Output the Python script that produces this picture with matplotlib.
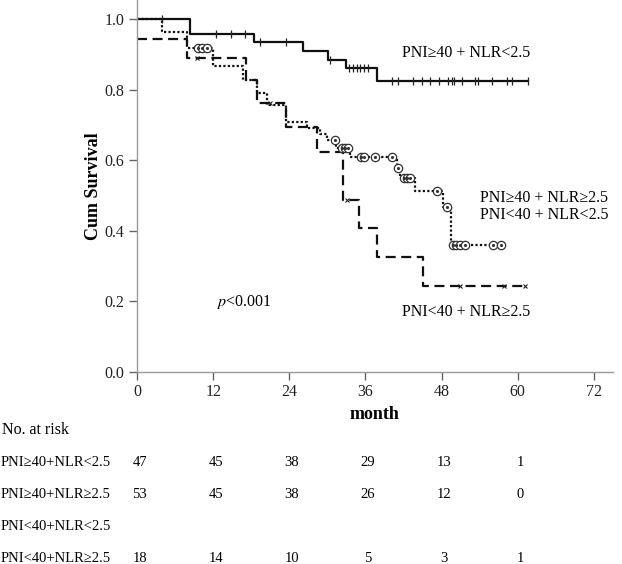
import matplotlib
matplotlib.use("Agg")
import matplotlib.pyplot as plt
import matplotlib.transforms as mtransforms

plt.rcParams['font.family'] = ['Liberation Serif', 'DejaVu Serif']
plt.rcParams['mathtext.fontset'] = 'stix'

# --- Kaplan-Meier steps ---
# PNI>=40 + NLR<2.5 (solid)
t_hi_low = [0, 8.3, 18.5, 26.2, 30.1, 33.0, 37.8, 61.6]
s_hi_low = [1.0, 0.957, 0.935, 0.909, 0.884, 0.861, 0.824, 0.824]
c_hi_low_t = [3.9, 12.4, 14.8, 17.0, 19.4, 23.5, 30.4, 33.4, 34.0, 34.6, 35.2, 35.8, 36.4,
              40.2, 41.1, 43.5, 44.9, 46.2, 47.6, 49.0, 49.6, 50.0, 51.2, 53.2, 53.7,
              55.9, 58.3, 59.1, 61.6]
c_hi_low_s = [1.0, 0.957, 0.957, 0.957, 0.935, 0.935, 0.884, 0.861, 0.861, 0.861, 0.861, 0.861, 0.861,
              0.824, 0.824, 0.824, 0.824, 0.824, 0.824, 0.824, 0.824, 0.824, 0.824, 0.824, 0.824,
              0.824, 0.824, 0.824, 0.824]

# PNI>=40 + NLR>=2.5 / PNI<40 + NLR<2.5 (dotted)
t_mid = [0, 3.9, 7.8, 12.0, 16.7, 18.9, 20.5, 23.4, 26.8, 28.8, 30.0, 31.4, 33.5,
         41.0, 41.4, 43.8, 48.2, 49.4, 57.8]
s_mid = [1.0, 0.963, 0.918, 0.867, 0.827, 0.79, 0.756, 0.708, 0.691, 0.675, 0.657, 0.634, 0.609,
         0.578, 0.55, 0.513, 0.467, 0.36, 0.36]
c_mid_t = [9.6, 10.3, 11.0, 31.2, 32.3, 32.8, 33.2, 35.3, 35.8, 37.5, 40.2, 41.1,
           42.0, 42.5, 43.0, 47.2, 48.8, 49.8, 50.3, 50.9, 51.7, 56.1, 57.4]
c_mid_s = [0.918, 0.918, 0.918, 0.657, 0.634, 0.634, 0.634, 0.609, 0.609, 0.609, 0.609, 0.578,
           0.55, 0.55, 0.55, 0.513, 0.467, 0.36, 0.36, 0.36, 0.36, 0.36, 0.36]

# PNI<40 + NLR>=2.5 (dashed)
t_lo_hi = [0, 7.9, 17.2, 18.9, 23.5, 28.3, 32.4, 35.0, 37.8, 45.0, 61.1]
s_lo_hi = [0.944, 0.889, 0.827, 0.762, 0.694, 0.623, 0.487, 0.408, 0.326, 0.244, 0.244]
c_lo_hi_t = [9.4, 21.0, 33.1, 50.9, 57.8, 61.1]
c_lo_hi_s = [0.889, 0.762, 0.487, 0.244, 0.244, 0.244]

# --- number at risk table ---
risk_times = [0, 12, 24, 36, 48, 60]
risk_rows = ["PNI≥40+NLR<2.5", "PNI≥40+NLR≥2.5", "PNI<40+NLR<2.5", "PNI<40+NLR≥2.5"]
risk_counts = [
    [47, 45, 38, 29, 13, 1],
    [53, 45, 38, 26, 12, 0],
    [],
    [18, 14, 10, 5, 3, 1],
]

W, H = 622, 564
fig = plt.figure(figsize=(W / 100, H / 100), dpi=100)
ax = fig.add_axes([137 / W, (H - 372) / H, (613 - 137) / W, 372 / H])

line_kw = dict(where='post', color='#111111', lw=1.6)
ax.step(t_hi_low, s_hi_low, linestyle='-', **line_kw)
ax.step(t_mid, s_mid, linestyle=(0, (1, 1)), **line_kw)
ax.step(t_lo_hi, s_lo_hi, linestyle=(0, (4.5, 2.5)), **line_kw)

ax.plot(c_hi_low_t, c_hi_low_s, ls='none', marker='|', ms=6, mew=0.9, color='#222222')
ax.plot(c_mid_t, c_mid_s, ls='none', marker='o', ms=6, mfc='white', mec='#333333', mew=0.9)
ax.plot(c_mid_t, c_mid_s, ls='none', marker='.', ms=2.5, color='#333333')
ax.plot(c_lo_hi_t, c_lo_hi_s, ls='none', marker='x', ms=3.5, mew=0.8, color='#222222')

ax.set_xlim(0, 75)
ax.set_ylim(0, 1.054)
ax.set_xticks(range(0, 73, 12))
ax.set_yticks([0.0, 0.2, 0.4, 0.6, 0.8, 1.0])
ax.set_yticklabels([f"{v:.1f}" for v in ax.get_yticks()])

for side in ['top', 'right']:
    ax.spines[side].set_visible(False)
for side in ['left', 'bottom']:
    ax.spines[side].set_color('#999999')
    ax.spines[side].set_linewidth(1.0)
ax.tick_params(direction='out', length=6, width=1, color='#666666',
               labelsize=11.5, labelcolor='#222222', pad=3)

ax.set_ylabel("Cum Survival", fontsize=13, fontweight='bold', labelpad=2)
ax.set_xlabel("month", fontsize=13, fontweight='bold', labelpad=4)

# curve labels
ax.text(41.7, 0.904, "PNI≥40 + NLR<2.5", fontsize=11.5, va='center', ha='left')
ax.text(54.0, 0.493, "PNI≥40 + NLR≥2.5", fontsize=11.5, va='center', ha='left')
ax.text(54.0, 0.445, "PNI<40 + NLR<2.5", fontsize=11.5, va='center', ha='left')
ax.text(41.7, 0.17, "PNI<40 + NLR≥2.5", fontsize=11.5, va='center', ha='left')
ax.text(12.4, 0.198, r"$p$<0.001", fontsize=11.5, va='center', ha='left')

# risk table under the axis
tr = mtransforms.blended_transform_factory(ax.transData, fig.transFigure)
fig.text(2 / W, 1 - 430 / H, "No. at risk", fontsize=11.5, va='center', ha='left')
row_y = [462, 495, 527, 559]
for name, counts, py in zip(risk_rows, risk_counts, row_y):
    fig.text(1 / W, 1 - py / H, name, fontsize=10.5, va='center', ha='left')
    for t, n in zip(risk_times, counts):
        ax.text(t + 0.4, 1 - py / H, str(n), transform=tr, fontsize=10.5,
                va='center', ha='center', clip_on=False)

fig.savefig("out.png", dpi=100)
